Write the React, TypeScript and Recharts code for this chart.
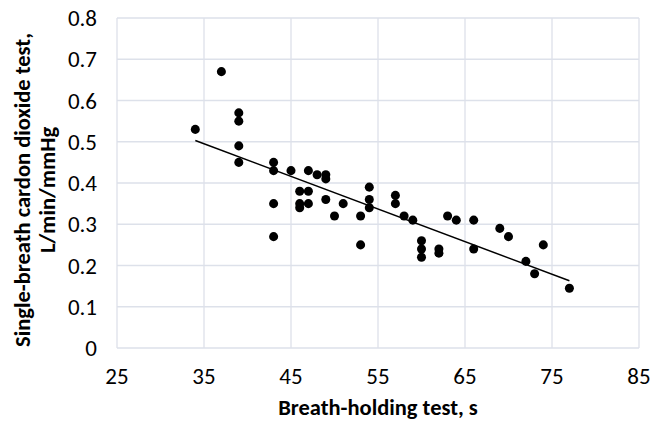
import { CartesianGrid, Scatter, ScatterChart, XAxis, YAxis, Label } from "recharts";

const breathHold = [
  34, 37, 39, 39, 39, 39, 43, 43, 43, 43, 45, 46, 46, 46, 47, 47, 47, 48, 49, 49, 49,
  50, 51, 53, 53, 54, 54, 54, 57, 57, 58, 59, 60, 60, 60, 62, 62, 63, 64, 66, 66, 69,
  70, 72, 73, 74, 77,
];
const co2Test = [
  0.53, 0.67, 0.57, 0.55, 0.49, 0.45, 0.45, 0.43, 0.35, 0.27, 0.43, 0.38, 0.35, 0.34,
  0.43, 0.38, 0.35, 0.42, 0.42, 0.41, 0.36, 0.32, 0.35, 0.32, 0.25, 0.39, 0.36, 0.34,
  0.37, 0.35, 0.32, 0.31, 0.26, 0.24, 0.22, 0.24, 0.23, 0.32, 0.31, 0.31, 0.24, 0.29,
  0.27, 0.21, 0.18, 0.25, 0.145,
];
const trendX = [34, 77];
const trendY = [0.503, 0.163];
const xTicks = [25, 35, 45, 55, 65, 75, 85];
const yTicks = [0, 0.1, 0.2, 0.3, 0.4, 0.5, 0.6, 0.7, 0.8];

const points = breathHold.map((x, i) => ({ x, y: co2Test[i] }));
const trend = trendX.map((x, i) => ({ x, y: trendY[i] }));

const font = "Carlito, 'Open Sans', sans-serif";
const tickStyle = { fontSize: 23, fill: "#000", fontFamily: font };

function YTitle(props: any) {
  const { viewBox } = props;
  const cy = viewBox.y + viewBox.height / 2 + 7;
  return (
    <text
      transform={`translate(0, ${cy}) rotate(-90)`}
      textAnchor="middle"
      fontFamily={font}
      fontWeight="bold"
      fontSize={22.5}
      fill="#000"
    >
      <tspan x={0} y={30}>Single-breath cardon dioxide test,</tspan>
      <tspan x={0} y={55}>L/min/mmHg</tspan>
    </text>
  );
}

export default function App() {
  return (
    <div style={{ position: "absolute", left: 0, top: 0 }}>
      <ScatterChart width={654} height={421} margin={{ top: 18, right: 15, left: 0, bottom: 0 }}>
        <CartesianGrid stroke="#dde1ea" strokeWidth={1.3} />
        <XAxis
          type="number"
          dataKey="x"
          domain={[25, 85]}
          ticks={xTicks}
          axisLine={false}
          tickLine={false}
          tickSize={0}
          tickMargin={20}
          tick={tickStyle}
          height={73}
        >
          <Label
            value="Breath-holding test, s"
            position="insideBottom"
            offset={6}
            style={{ fontSize: 22.5, fontWeight: "bold", fill: "#000", fontFamily: font }}
          />
        </XAxis>
        <YAxis
          type="number"
          dataKey="y"
          domain={[0, 0.8]}
          ticks={yTicks}
          tickFormatter={(v: number) => (v === 0 ? "0" : v.toFixed(1))}
          axisLine={false}
          tickLine={false}
          tickSize={0}
          tickMargin={20}
          tick={tickStyle}
          width={117}
          label={<YTitle />}
        />
        <Scatter data={points} fill="#000" isAnimationActive={false} />
        <Scatter
          data={trend}
          line={{ stroke: "#000", strokeWidth: 1.5 }}
          shape={() => null}
          isAnimationActive={false}
        />
      </ScatterChart>
    </div>
  );
}
